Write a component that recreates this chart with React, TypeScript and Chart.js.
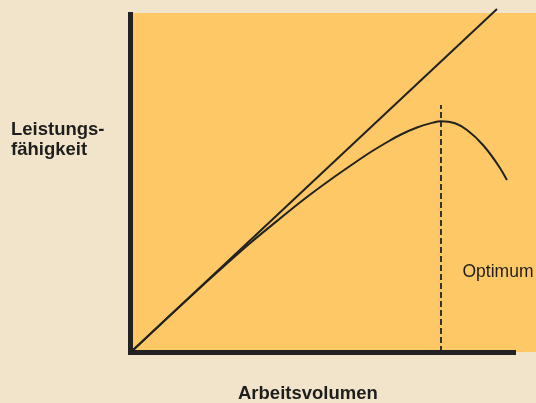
import React, { useEffect, useRef } from "react";
import { Chart, registerables } from "chart.js";

Chart.register(...registerables);

// Arbitrary units: x = Arbeitsvolumen, y = Leistungsfähigkeit
const X_MAX = 405;
const Y_MAX = 340;
const AXIS_X_END = 385;

const idealX = [0, 366];
const idealY = [0, 343];

const curveX = [0, 40, 82, 119, 149, 174, 199, 219, 239, 259, 269, 286, 302, 310, 324, 336, 352, 369, 376];
const curveY = [0, 37.4, 76, 108.8, 133.5, 153.5, 172, 186, 199.5, 211.5, 217, 224.5, 229.4, 230.7, 228.7, 222, 207, 184, 172];

const optimumX = [310, 310];
const optimumY = [0, 247];

const BG = "#f2e4ca";
const PLOT = "#fec866";
const INK = "#222222";

const toPts = (xs: number[], ys: number[]) => xs.map((x, i) => ({ x, y: ys[i] }));

const bgPlugin = {
  id: "bgPlugin",
  beforeDraw(chart: any) {
    const { ctx, width, height, scales } = chart;
    const x = scales.x;
    const y = scales.y;
    ctx.save();
    ctx.fillStyle = BG;
    ctx.fillRect(0, 0, width, height);
    const l = x.getPixelForValue(0);
    const t = y.getPixelForValue(Y_MAX) + 1;
    const b = y.getPixelForValue(0);
    ctx.fillStyle = PLOT;
    ctx.fillRect(l, t, width - l, b - t);
    ctx.restore();
  },
  afterDraw(chart: any) {
    const { ctx, scales } = chart;
    const x = scales.x;
    const y = scales.y;
    const x0 = x.getPixelForValue(0);
    const y0 = y.getPixelForValue(0);
    ctx.save();
    ctx.fillStyle = INK;
    // vertical axis
    ctx.fillRect(x0 - 3, y.getPixelForValue(Y_MAX), 5, y0 - y.getPixelForValue(Y_MAX) + 3);
    // horizontal axis
    ctx.fillRect(x0 - 3, y0 - 2, x.getPixelForValue(AXIS_X_END) - x0 + 3, 5);
    ctx.restore();
  },
};

export default function App() {
  const ref = useRef<HTMLCanvasElement | null>(null);
  useEffect(() => {
    document.body.style.margin = "0";
    const chart = new Chart(ref.current as HTMLCanvasElement, {
      type: "line",
      data: {
        datasets: [
          {
            data: toPts(idealX, idealY),
            borderColor: INK,
            borderWidth: 2,
            pointRadius: 0,
            clip: false as any,
          },
          {
            data: toPts(curveX, curveY),
            borderColor: INK,
            borderWidth: 2,
            pointRadius: 0,
            cubicInterpolationMode: "monotone",
            clip: false as any,
          },
          {
            data: toPts(optimumX, optimumY),
            borderColor: "#333333",
            borderWidth: 2,
            borderDash: [6, 3],
            pointRadius: 0,
            clip: false as any,
          },
        ],
      },
      options: {
        animation: false,
        responsive: false,
        devicePixelRatio: 1,
        layout: { padding: { left: 131, right: 0, top: 12, bottom: 51 } },
        plugins: { legend: { display: false }, tooltip: { enabled: false } },
        scales: {
          x: { type: "linear", min: 0, max: X_MAX, display: false },
          y: { type: "linear", min: 0, max: Y_MAX, display: false },
        },
      },
      plugins: [bgPlugin],
    });
    return () => chart.destroy();
  }, []);

  const font = '"Liberation Sans", Arial, sans-serif';
  return (
    <div
      style={{
        position: "fixed",
        left: 0,
        top: 0,
        width: 536,
        height: 403,
        overflow: "hidden",
        background: BG,
      }}
    >
      <canvas ref={ref} width={536} height={403} style={{ display: "block" }} />
      <div
        style={{
          position: "absolute",
          left: 11,
          top: 119,
          fontFamily: font,
          fontWeight: "bold",
          fontSize: 18.5,
          lineHeight: "20px",
          color: "#1e1e1e",
          whiteSpace: "nowrap",
        }}
      >
        Leistungs-
        <br />
        fähigkeit
      </div>
      <div
        style={{
          position: "absolute",
          left: 238,
          top: 382.5,
          fontFamily: font,
          fontWeight: "bold",
          fontSize: 18.5,
          lineHeight: "20px",
          color: "#1e1e1e",
          whiteSpace: "nowrap",
        }}
      >
        Arbeitsvolumen
      </div>
      <div
        style={{
          position: "absolute",
          left: 462.5,
          top: 260.5,
          fontFamily: font,
          fontSize: 17.5,
          lineHeight: "20px",
          color: "#1e1e1e",
          whiteSpace: "nowrap",
        }}
      >
        Optimum
      </div>
    </div>
  );
}
